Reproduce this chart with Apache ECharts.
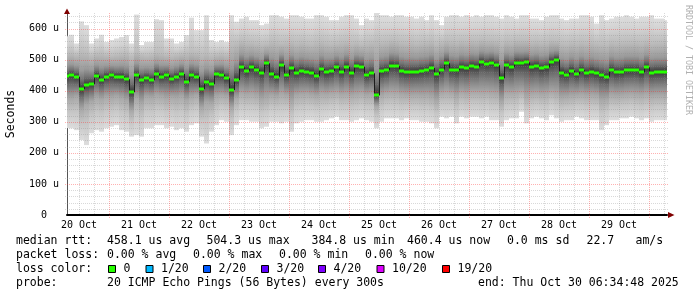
<!DOCTYPE html>
<html><head><meta charset="utf-8">
<script src="https://cdn.jsdelivr.net/npm/echarts@6/dist/echarts.min.js"></script>
<style>html,body{margin:0;padding:0;background:#fff}#c{width:697px;height:297px}</style>
</head><body><div id="c"></div><script>
// time in hours after 20 Oct 2025 00:00; each column covers stepHours
const startHour = 6;
const stepHours = 2;
const xMin = 7.2, xMax = 247.2;

const median = [446,
 450,445,405,418,421,448,434,445,450,445, 445,437,395,450,434,440,434,455,445,450, 438,445,454,429,450,445,405,427,421,453,
 452,440,402,434,475,464,475,468,458,488, 455,445,482,450,472,458,464,461,458,447, 469,459,463,475,461,477,458,479,477,450,
 456,385,462,466,481,479,464,460,460,461, 464,466,473,453,468,488,468,466,475,472, 479,477,491,486,490,482,440,482,475,490,
 488,491,477,480,472,475,493,500,458,452, 464,453,466,456,461,456,450,445,466,459, 460,466,466,466,459,475,458,460,460,461];

const smokeHi = [575,
 580,552,623,611,552,568,580,557,563,568, 573,579,552,645,547,557,557,630,627,568, 568,552,557,579,635,595,595,643,563,557,
 563,557,643,622,632,638,627,627,611,616, 643,643,638,632,643,643,638,632,632,643, 643,638,627,627,638,643,643,632,611,632,
 627,654,643,643,638,643,643,638,638,632, 638,627,643,627,611,638,643,643,638,643, 638,643,638,643,643,638,632,643,638,632,
 643,643,632,632,627,638,643,643,632,627, 632,632,643,643,638,616,643,627,632,638, 638,643,638,632,638,638,643,632,632,627];

const smokeLo = [280,
 279,273,241,225,263,273,268,279,284,289, 273,268,252,257,252,279,279,289,289,279, 284,273,279,268,289,295,252,230,268,289,
 305,300,257,289,305,305,300,300,279,284, 300,300,295,300,268,295,300,305,305,300, 300,305,311,316,305,305,300,305,311,305,
 300,279,300,311,311,311,305,311,305,305, 300,300,295,279,316,311,316,295,316,311, 316,316,311,316,305,305,284,305,311,311,
 332,295,311,316,311,305,321,311,300,305, 305,316,311,305,305,305,273,289,305,305, 311,311,316,311,305,311,300,305,305,305];

const midHi = [518,
 520,515,525,522,512,518,520,515,512,515, 518,520,510,525,515,512,515,522,520,515, 512,515,518,520,525,522,515,520,512,515,
 518,515,548,552,560,556,555,552,548,550, 558,556,552,555,558,553,556,552,550,556, 558,554,550,552,556,558,552,554,548,552,
 555,560,556,558,562,560,556,554,556,552, 555,556,560,550,556,562,558,556,560,558, 562,560,564,562,562,560,552,560,558,562,
 562,562,556,558,555,556,562,560,552,550, 554,552,556,554,556,552,550,548,556,554, 555,556,556,556,554,558,552,554,554,555];

const midLo = [376,
 375,380,340,355,365,378,372,380,378,382, 376,368,335,374,360,380,378,385,382,376, 380,378,382,370,380,385,345,362,360,382,
 385,382,345,375,392,388,390,385,372,378, 385,382,390,385,365,385,388,390,386,382, 390,388,392,395,388,390,385,388,392,386,
 388,350,385,392,395,394,388,386,385,386, 384,385,380,368,392,396,392,382,394,390, 396,396,395,396,392,390,365,392,392,394,
 398,382,390,392,388,390,396,392,378,380, 384,386,388,385,386,384,370,372,386,384, 386,388,390,388,386,390,384,386,386,385];

const dayLabels = ['20 Oct','21 Oct','22 Oct','23 Oct','24 Oct','25 Oct','26 Oct','27 Oct','28 Oct','29 Oct'];
const dayLabelHours = [12,36,60,84,108,132,156,180,204,228];
const yTicks = [0,100,200,300,400,500,600];

const statRows = [
  [['median rtt:',16],['458.1 us avg',107],['504.3 us max',206.5],['384.8 us min',311.5],['460.4 us now',407],['0.0 ms sd',507],['22.7',586.5],['am/s',635.5]],
  [['packet loss:',16],['0.00 % avg',107],['0.00 % max',193],['0.00 % min',279],['0.00 % now',365]],
  [['loss color:',16]],
  [['probe:',16],['20 ICMP Echo Pings (56 Bytes) every 300s',107],['end: Thu Oct 30 06:34:48 2025',478]]
];
const lossLabels = ['0','1/20','2/20','3/20','4/20','10/20','19/20'];
const lossColors = ['#26ff00','#00b8ff','#0059ff','#5e00ff','#7e00ff','#dd00ff','#ff0000'];
const lossBoxX = [108,145.5,203,261,318,376.5,442];
const rowY = [241,255,269,283];

// ---- build series data ----
const smokeData = median.map((m,i)=>[startHour+i*stepHours, startHour+(i+1)*stepHours, smokeLo[i], midLo[i], m, midHi[i], smokeHi[i]]);
const medData = median.map((m,i)=>[startHour+i*stepHours, startHour+(i+1)*stepHours, m, i>0?median[i-1]:m]);
const gridData = [];
for (let v=20; v<=640; v+=20) gridData.push([0, v, v%100===0?1:0]);
for (let h=12; h<=246; h+=6) gridData.push([1, h, h%24===0?1:0]);

const FONT = '"DejaVu Sans Mono", monospace';

function renderSmoke(params, api){
  const x0=api.value(0), x1=api.value(1), lo=api.value(2), ml=api.value(3), md=api.value(4), mh=api.value(5), hi=api.value(6);
  const a=api.coord([x0,hi]), b=api.coord([x1,lo]);
  const left=Math.round(a[0]), right=Math.round(b[0]);
  const top=a[1], bot=b[1], H=bot-top;
  const off=v=>Math.min(1,Math.max(0,(api.coord([x0,v])[1]-top)/H));
  const stops=[
    {offset:0,color:'#dddddd'},
    {offset:off(hi-(hi-mh)*0.45),color:'#d2d2d2'},
    {offset:off(mh),color:'#bcbcbc'},
    {offset:off(mh+(md-mh)*0.5),color:'#9a9a9a'},
    {offset:off(mh+(md-mh)*0.75),color:'#727272'},
    {offset:off(mh+(md-mh)*0.9),color:'#4c4c4c'},
    {offset:off(md),color:'#363636'},
    {offset:off(md+(ml-md)*0.12),color:'#4a4a4a'},
    {offset:off(md+(ml-md)*0.35),color:'#6a6a6a'},
    {offset:off(md+(ml-md)*0.7),color:'#8e8e8e'},
    {offset:off(ml),color:'#a8a8a8'},
    {offset:off(ml-(ml-lo)*0.45),color:'#c6c6c6'},
    {offset:1,color:'#dddddd'}];
  const cs=params.coordSys;
  const r=echarts.graphic.clipRectByRect({x:left,y:top,width:right-left,height:H},{x:cs.x,y:cs.y,width:cs.width,height:cs.height});
  if(!r) return;
  return {type:'rect',shape:r,style:{fill:new echarts.graphic.LinearGradient(0,top,0,bot,stops,true)}};
}

function renderGrid(params, api){
  const dir=api.value(0), v=api.value(1), major=api.value(2);
  const cs=params.coordSys;
  const stroke = major ? 'rgba(255,40,40,0.36)' : 'rgba(140,140,140,0.33)';
  let shape;
  if(dir===0){
    const y=Math.round(api.coord([xMin,v])[1])+0.5;
    shape={x1:cs.x-2,y1:y,x2:cs.x+cs.width+1,y2:y};
  } else {
    const x=Math.round(api.coord([v,0])[0])+0.5;
    shape={x1:x,y1:cs.y,x2:x,y2:cs.y+cs.height+(major?3:0)};
  }
  return {type:'line',shape,style:{stroke,lineWidth:1,lineDash:[1,1]}};
}

function renderMedian(params, api){
  const x0=api.value(0), x1=api.value(1), md=api.value(2), pm=api.value(3);
  const a=api.coord([x0,md]), b=api.coord([x1,md]), p=api.coord([x0,pm]);
  const cs=params.coordSys;
  const left=Math.round(a[0]), right=Math.round(b[0]);
  const children=[];
  if(left>=cs.x){
    children.push({type:'line',shape:{x1:left+0.5,y1:p[1],x2:left+0.5,y2:a[1]},style:{stroke:'#1c1c1c',lineWidth:1}});
  }
  const r=echarts.graphic.clipRectByRect({x:left,y:Math.round(a[1])-1.5,width:right-left,height:3},{x:cs.x,y:cs.y,width:cs.width,height:cs.height});
  if(r) children.push({type:'rect',shape:r,style:{fill:'#26ff00'}});
  return {type:'group',children};
}

// ---- graphic texts ----
const graphics=[];
statRows.forEach((row,ri)=>row.forEach(([s,x])=>graphics.push({type:'text',x:x,y:rowY[ri],style:{text:s,font:'11.5px '+FONT,fill:'#000',verticalAlign:'middle',textVerticalAlign:'middle'}})));
lossLabels.forEach((s,i)=>{
  graphics.push({type:'rect',shape:{x:lossBoxX[i]+0.5,y:265.5,width:7,height:7},style:{fill:lossColors[i],stroke:'#000',lineWidth:1}});
  graphics.push({type:'text',x:lossBoxX[i]+15.5,y:rowY[2],style:{text:s,font:'11.5px '+FONT,fill:'#000',verticalAlign:'middle',textVerticalAlign:'middle'}});
});
graphics.push({type:'text',x:688,y:5,rotation:-Math.PI/2,style:{text:'RRDTOOL / TOBI OETIKER',font:'8.3px '+FONT,fill:'#b0b0b0',verticalAlign:'middle',textVerticalAlign:'middle'}});
graphics.push({type:'polygon',shape:{points:[[67,8.5],[64,14],[70,14]]},style:{fill:'#7f0000'},z:10});
graphics.push({type:'polygon',shape:{points:[[674.5,215],[668,212],[668,218]]},style:{fill:'#7f0000'},z:10});

const chart=echarts.init(document.getElementById('c'),null,{renderer:'canvas'});
chart.setOption({
  animation:false,
  backgroundColor:'#ffffff',
  grid:{left:67,right:30,top:13,bottom:82,containLabel:false,outerBoundsMode:'none'},
  xAxis:{type:'value',min:xMin,max:xMax,
    axisLine:{show:true,lineStyle:{color:'#000',width:2}},
    axisTick:{show:false},splitLine:{show:false},
    axisLabel:{customValues:dayLabelHours,formatter:v=>dayLabels[Math.round((v-12)/24)]||'',margin:5,
      fontFamily:FONT,fontSize:10,color:'#000'}},
  yAxis:{type:'value',min:0,max:650,interval:100,
    name:'Seconds',nameLocation:'middle',nameGap:50,nameRotate:90,
    nameTextStyle:{fontFamily:FONT,fontSize:11.5,color:'#000'},
    axisLine:{show:true,lineStyle:{color:'#555',width:1}},
    axisTick:{show:false},splitLine:{show:false},
    axisLabel:{customValues:yTicks,formatter:v=>(v%100!==0?'':(v===0?'0':v+' u')),align:'center',margin:23,
      fontFamily:FONT,fontSize:10,color:'#000'}},
  graphic:graphics,
  series:[
    {type:'custom',renderItem:renderSmoke,data:smokeData,z:1,silent:true,encode:{x:[0,1],y:[2,6]}},
    {type:'custom',renderItem:renderGrid,data:gridData,z:2,silent:true,encode:{x:1,y:1}},
    {type:'custom',renderItem:renderMedian,data:medData,z:3,silent:true,encode:{x:[0,1],y:2}}
  ]
});
</script></body></html>
